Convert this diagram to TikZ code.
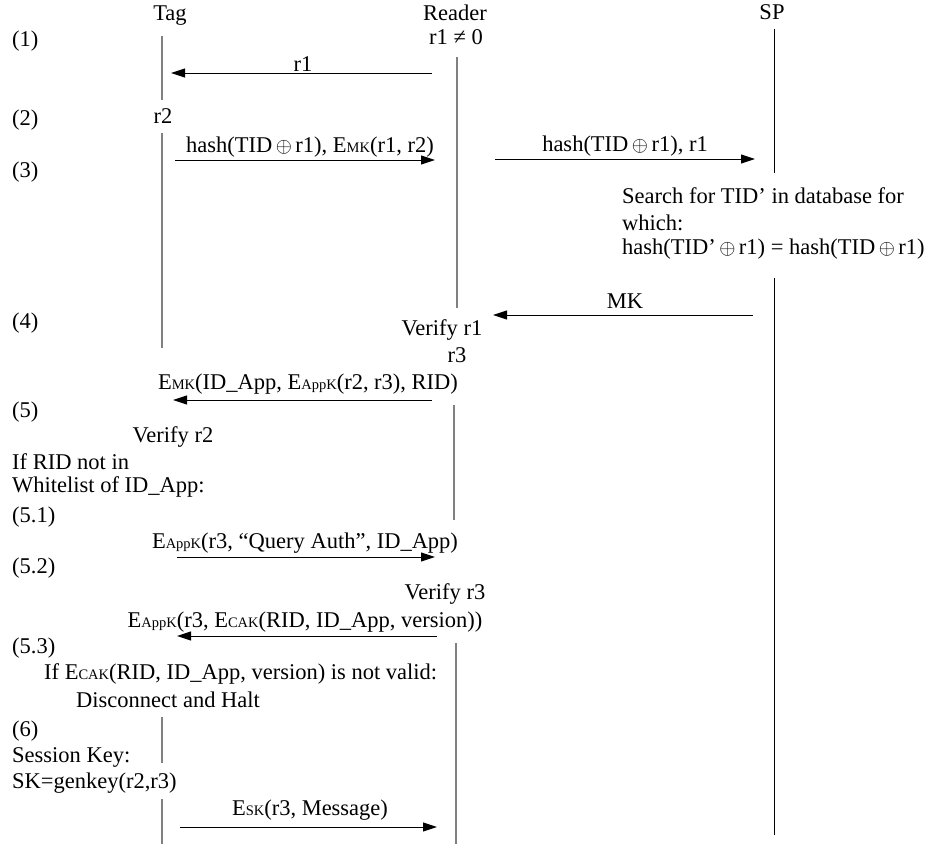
\documentclass[tikz,border=0pt]{standalone}
\usepackage{fontspec}
\setmainfont{Liberation Serif}
\usetikzlibrary{arrows.meta}
\newcommand\ssub[1]{\raisebox{-0.6pt}{\fontsize{14.5}{14.5}\selectfont #1}}
\newcommand\xr{\ensuremath{\,\oplus\,}}
\begin{document}
\begin{tikzpicture}[x=1pt,y=-1pt, font=\fontsize{22.5}{27}\selectfont,
  life/.style={draw=black!50, line width=1.4pt},
  splife/.style={draw=black, line width=0.9pt},
  msg/.style={draw=black, line width=1pt, -{Triangle[length=14pt,width=9pt]}},
  txt/.style={inner sep=0pt, anchor=base},
  ltxt/.style={inner sep=0pt, anchor=base west}]
\useasboundingbox (0,0) rectangle (932,844);

% headers
\node[txt] (tag) at (170,20) {Tag};
\node[txt] (reader) at (455,20) {Reader};
\node[txt] (sp) at (772,19) {SP};
\node[txt] (rne) at (456,44) {r1 ≠ 0};

% step labels
\node[ltxt] (s1) at (12,46) {(1)};
\node[ltxt] (s2) at (12,125) {(2)};
\node[ltxt] (s3) at (12,177) {(3)};
\node[ltxt] (s4) at (12,328) {(4)};
\node[ltxt] (s5) at (12,417) {(5)};
\node[ltxt] (s51) at (12,522) {(5.1)};
\node[ltxt] (s52) at (12,573) {(5.2)};
\node[ltxt] (s53) at (12,653) {(5.3)};
\node[ltxt] (s6) at (12,736) {(6)};

% local computations
\node[txt] (r2) at (163,123) {r2};
\node[txt] (vr1) at (442,335) {Verify r1};
\node[txt] (r3) at (457,362) {r3};
\node[txt] (vr2) at (173,442) {Verify r2};
\node[txt] (vr3) at (445,599) {Verify r3};
\node[ltxt] (rid1) at (12,469) {If RID not in};
\node[ltxt] (rid2) at (12,492) {Whitelist of ID\_App:};
\node[ltxt] (cak1) at (44,679) {If E\ssub{CAK}(RID, ID\_App, version) is not valid:};
\node[ltxt] (cak2) at (76,707) {Disconnect and Halt};
\node[ltxt] (sk1) at (12,762) {Session Key:};
\node[ltxt] (sk2) at (12,788) {SK=genkey(r2,r3)};
\node[ltxt] (sr1) at (622,203) {Search for TID’ in database for};
\node[ltxt] (sr2) at (622,230) {which:};
\node[ltxt] (sr3) at (622,254) {hash(TID’\xr r1) = hash(TID\xr r1)};

% lifelines
\coordinate (t1a) at (162,36);  \coordinate (t1b) at (162,100);
\coordinate (t2a) at (162,133); \coordinate (t2b) at (162,348);
\coordinate (t3a) at (162,717); \coordinate (t3b) at (162,763);
\coordinate (t4a) at (162,799); \coordinate (t4b) at (162,844);
\coordinate (r1a) at (457,57);  \coordinate (r1b) at (457,308);
\coordinate (r2a) at (454,405); \coordinate (r2b) at (454,520);
\coordinate (r3a) at (456,643); \coordinate (r3b) at (456,844);
\coordinate (p1a) at (774,29);  \coordinate (p1b) at (774,173);
\coordinate (p2a) at (774,278); \coordinate (p2b) at (774,835);
\draw[life] (t1a) -- (t1b);
\draw[life] (t2a) -- (t2b);
\draw[life] (t3a) -- (t3b);
\draw[life] (t4a) -- (t4b);
\draw[life] (r1a) -- (r1b);
\draw[life] (r2a) -- (r2b);
\draw[life] (r3a) -- (r3b);
\draw[splife] (p1a) -- (p1b);
\draw[splife] (p2a) -- (p2b);

% messages
\coordinate (m1a) at (432,73);  \coordinate (m1b) at (171,73);
\coordinate (m2a) at (175,160); \coordinate (m2b) at (435,160);
\coordinate (m3a) at (495,159); \coordinate (m3b) at (755,159);
\coordinate (m4a) at (753,315); \coordinate (m4b) at (493,315);
\coordinate (m5a) at (432,400); \coordinate (m5b) at (173,400);
\coordinate (m6a) at (177,557); \coordinate (m6b) at (435,557);
\coordinate (m7a) at (437,636); \coordinate (m7b) at (177,636);
\coordinate (m8a) at (180,827); \coordinate (m8b) at (437,827);
\draw[msg] (m1a) -- (m1b);
\draw[msg] (m2a) -- (m2b);
\draw[msg] (m3a) -- (m3b);
\draw[msg] (m4a) -- (m4b);
\draw[msg] (m5a) -- (m5b);
\draw[msg] (m6a) -- (m6b);
\draw[msg] (m7a) -- (m7b);
\draw[msg] (m8a) -- (m8b);

% message labels
\node[txt] (l1) at (303,71) {r1};
\node[txt] (l2) at (310,152) {hash(TID\xr r1), E\ssub{MK}(r1, r2)};
\node[txt] (l3) at (625,151) {hash(TID\xr r1), r1};
\node[txt] (l4) at (625,308) {MK};
\node[txt] (l5) at (308,389) {E\ssub{MK}(ID\_App, E\ssub{AppK}(r2, r3), RID)};
\node[txt] (l6) at (305,548) {E\ssub{AppK}(r3, “Query Auth”, ID\_App)};
\node[txt] (l7) at (305,627) {E\ssub{AppK}(r3, E\ssub{CAK}(RID, ID\_App, version))};
\node[txt] (l8) at (310,815) {E\ssub{SK}(r3, Message)};
\end{tikzpicture}
\end{document}
